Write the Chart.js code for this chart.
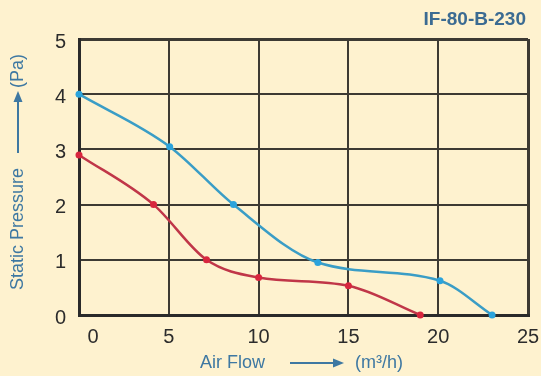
<!DOCTYPE html>
<html>
<head>
<meta charset="utf-8">
<script src="https://cdn.jsdelivr.net/npm/chart.js@4/dist/chart.umd.min.js"></script>
<style>
  html, body { margin: 0; padding: 0; background: #fef2cf; }
  #wrap { width: 541px; height: 376px; }
</style>
</head>
<body>
<div id="wrap"><canvas id="chart" width="541" height="376"></canvas></div>
<script>
// curve readings (air flow m3/h vs static pressure Pa)
var blueFlow = [0, 5.05, 8.6, 13.3, 20.1, 23];
var bluePressure = [4, 3.05, 2.0, 0.95, 0.62, 0];
var redFlow = [0, 4.15, 7.1, 10, 15, 19];
var redPressure = [2.9, 2.0, 1.0, 0.68, 0.53, 0];
var xTicks = [0, 5, 10, 15, 20, 25];
var yTicks = [0, 1, 2, 3, 4, 5];
var chartTitle = 'IF-80-B-230';

function pts(xs, ys) {
  return xs.map(function(x, i) { return {x: x, y: ys[i]}; });
}

var BLUE = '#3a9dc6', RED = '#c03648', GRID = '#3d3a33', LABEL = '#3e78a2';

function arrow(ctx, x1, y1, x2, y2) {
  var a = Math.atan2(y2 - y1, x2 - x1);
  ctx.beginPath();
  ctx.moveTo(x1, y1);
  ctx.lineTo(x2 - 6 * Math.cos(a), y2 - 6 * Math.sin(a));
  ctx.stroke();
  ctx.beginPath();
  ctx.moveTo(x2, y2);
  ctx.lineTo(x2 - 11 * Math.cos(a) + 4.5 * Math.sin(a), y2 - 11 * Math.sin(a) - 4.5 * Math.cos(a));
  ctx.lineTo(x2 - 11 * Math.cos(a) - 4.5 * Math.sin(a), y2 - 11 * Math.sin(a) + 4.5 * Math.cos(a));
  ctx.closePath();
  ctx.fill();
}

var decor = {
  id: 'decor',
  afterDraw: function(chart) {
    var ctx = chart.ctx, xs = chart.scales.x, ys = chart.scales.y;
    ctx.save();
    // tick labels
    ctx.fillStyle = '#2c2c2c';
    ctx.font = '20px "Liberation Sans", Arial, sans-serif';
    ctx.textBaseline = 'middle';
    ctx.textAlign = 'right';
    yTicks.forEach(function(v) {
      ctx.fillText(String(v), 66, ys.getPixelForValue(v) + 3);
    });
    ctx.textAlign = 'center';
    xTicks.forEach(function(v) {
      var px = xs.getPixelForValue(v);
      if (v === 0) px += 14;
      ctx.fillText(String(v), px, 337);
    });
    // title
    ctx.fillStyle = '#3b6b92';
    ctx.font = 'bold 19px "Liberation Sans", Arial, sans-serif';
    ctx.textAlign = 'right';
    ctx.fillText(chartTitle, 526, 20);
    // axis titles
    ctx.fillStyle = LABEL;
    ctx.strokeStyle = LABEL;
    ctx.lineWidth = 2;
    ctx.font = '18px "Liberation Sans", Arial, sans-serif';
    ctx.textAlign = 'left';
    ctx.fillText('Air Flow', 200, 363);
    arrow(ctx, 290, 363, 344, 363);
    ctx.fillText('(m\u00b3/h)', 355, 363);
    ctx.save();
    ctx.translate(18, 0);
    ctx.rotate(-Math.PI / 2);
    ctx.fillText('Static Pressure', -290, 0);
    ctx.fillText('(Pa)', -88, 0);
    ctx.restore();
    arrow(ctx, 18, 153, 18, 91);
    ctx.restore();
  }
};

new Chart(document.getElementById('chart'), {
  type: 'line',
  data: {
    datasets: [
      {
        data: pts(blueFlow, bluePressure),
        borderColor: BLUE, backgroundColor: '#2ba3dc',
        borderWidth: 2.5, pointRadius: 3.5, pointBorderWidth: 0,
        cubicInterpolationMode: 'monotone', clip: false
      },
      {
        data: pts(redFlow, redPressure),
        borderColor: RED, backgroundColor: '#d8263e',
        borderWidth: 2.5, pointRadius: 3.5, pointBorderWidth: 0,
        cubicInterpolationMode: 'monotone', clip: false
      }
    ]
  },
  options: {
    responsive: false,
    animation: false,
    layout: { padding: { left: 79, right: 13, top: 39, bottom: 61 } },
    plugins: { legend: { display: false }, tooltip: { enabled: false } },
    scales: {
      x: {
        type: 'linear', min: 0, max: 25,
        ticks: { display: false, stepSize: 5 },
        grid: {
          color: GRID, drawTicks: false,
          lineWidth: function(c) { return (c.tick && (c.tick.value === 0 || c.tick.value === 25)) ? 3 : 2; }
        },
        border: { color: '#2a2a2a', width: 3 },
        afterFit: function(s) { s.height = 0; }
      },
      y: {
        min: 0, max: 5,
        ticks: { display: false, stepSize: 1 },
        grid: {
          color: GRID, drawTicks: false,
          lineWidth: function(c) { return (c.tick && (c.tick.value === 0 || c.tick.value === 5)) ? 3 : 2; }
        },
        border: { color: '#2a2a2a', width: 3 },
        afterFit: function(s) { s.width = 0; }
      }
    }
  },
  plugins: [decor]
});
</script>
</body>
</html>
